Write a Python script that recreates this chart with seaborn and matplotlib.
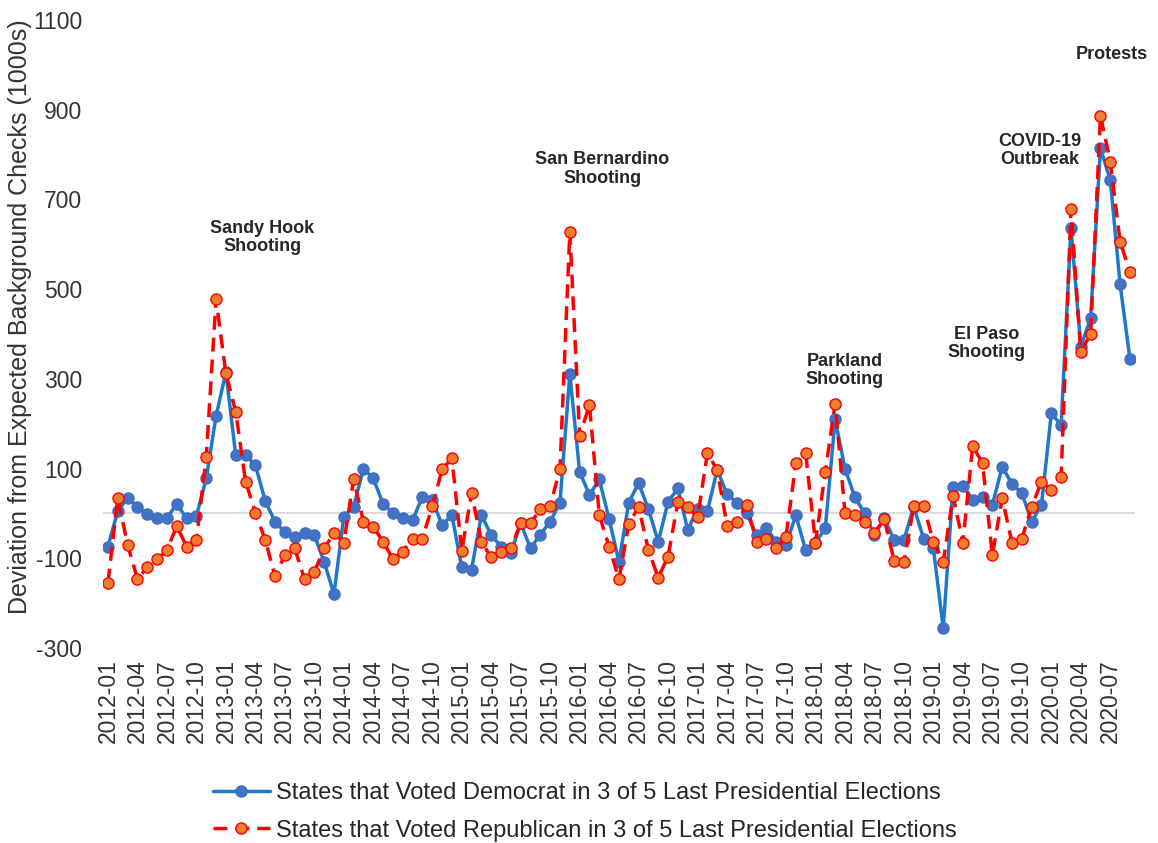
import numpy as np
import pandas as pd
import seaborn as sns
import matplotlib.pyplot as plt

# Monthly categories, 2012-01 through 2020-09
months = pd.date_range("2012-01-01", "2020-09-01", freq="MS").strftime("%Y-%m").tolist()

# Deviation from expected background checks (1000s)
dem = [-74, 6, 34, 15, -1, -10, -10, 21, -11, -6, 78, 217, 315, 130, 130, 108,
       28, -18, -42, -53, -43, -48, -108, -180, -7, 15, 100, 78, 21, 2, -11, -15,
       37, 30, -26, -4, -120, -125, -4, -48, -74, -88, -22, -78, -47, -18, 24, 311,
       93, 41, 76, -13, -108, 24, 68, 9, -63, 26, 56, -37, 11, 5, 97, 43,
       24, 0, -48, -33, -63, -70, -4, -82, -65, -33, 210, 100, 37, 0, -48, -11,
       -59, -59, 15, -56, -78, -256, 60, 61, 31, 37, 19, 104, 66, 45, -18, 19,
       223, 197, 637, 372, 435, 814, 743, 511, 344]

rep = [-154, 34, -70, -146, -120, -102, -82, -28, -74, -59, 126, 477, 312, 227, 71, 2,
       -59, -140, -93, -78, -146, -130, -78, -44, -65, 76, -18, -30, -63, -102, -85, -56,
       -56, 16, 98, 123, -83, 45, -63, -98, -85, -78, -21, -21, 9, 16, 100, 628,
       173, 242, -4, -74, -147, -24, 15, -82, -143, -96, 26, 15, -9, 134, 97, -27,
       -18, 18, -63, -56, -78, -52, 112, 134, -65, 93, 245, 2, -4, -18, -43, -13,
       -105, -108, 16, 16, -63, -108, 39, -65, 150, 112, -93, 34, -65, -56, 14, 71,
       52, 82, 678, 359, 401, 887, 784, 606, 538]

# Event labels: text, month position, height
events = ["Sandy Hook\nShooting", "San Bernardino\nShooting", "Parkland\nShooting",
          "El Paso\nShooting", "COVID-19\nOutbreak", "Protests"]
event_pos = [15.7, 50.3, 75.0, 89.4, 94.8, 102.2]
event_val = [615, 768, 319, 379, 809, 1022]

df = pd.DataFrame({"month": months, "pos": np.arange(len(months)), "dem": dem, "rep": rep})

sns.set_style("white")
plt.rcParams["font.family"] = ["Liberation Sans", "DejaVu Sans"]
plt.rcParams["axes.unicode_minus"] = False

fig = plt.figure(figsize=(11.58, 8.43), dpi=100)
ax = fig.add_axes([0.089, 0.2313, 0.891, 0.745])

ax.axhline(0, color="#d9d9d9", lw=1.3, zorder=1)

sns.lineplot(data=df, x="pos", y="dem", ax=ax, color="#1f78c8", lw=2.5,
             marker="o", ms=8, markerfacecolor="#4472c4", markeredgecolor="#3f6fc0",
             markeredgewidth=1, zorder=3,
             label="States that Voted Democrat in 3 of 5 Last Presidential Elections")
sns.lineplot(data=df, x="pos", y="rep", ax=ax, color="#ff0000", lw=2.5,
             linestyle=(0, (4, 2.3)), marker="o", ms=8, markerfacecolor="#ed7d31",
             markeredgecolor="#ff0000", markeredgewidth=1, zorder=4,
             label="States that Voted Republican in 3 of 5 Last Presidential Elections")

ax.set_xlim(-0.5, len(months) - 0.5)
ax.set_ylim(-300, 1100)
ax.set_yticks(range(-300, 1101, 200))
ax.set_xticks(df["pos"][::3])
ax.set_xticklabels(df["month"][::3], rotation=90)
ax.tick_params(axis="x", length=0, pad=8, labelsize=16.5, labelcolor="#333333")
ax.tick_params(axis="y", length=0, pad=15, labelsize=16.5, labelcolor="#333333")
sns.despine(ax=ax, left=True, bottom=True)

ax.set_xlabel("")
ax.set_ylabel("Deviation from Expected Background Checks (1000s)", fontsize=18, color="#333333")
ax.yaxis.set_label_coords(-0.0685, 0.527)

for txt, x, y in zip(events, event_pos, event_val):
    ax.text(x, y, txt, ha="center", va="center", fontsize=13, fontweight="bold",
            color="#262626", linespacing=1.1)

ax.legend(loc="center", bbox_to_anchor=(0.505, 0.037), bbox_transform=fig.transFigure,
          frameon=False, fontsize=17, handlelength=2.4, handletextpad=0.25,
          labelspacing=0.66, borderpad=0)

fig.savefig("out.png", dpi=100)
